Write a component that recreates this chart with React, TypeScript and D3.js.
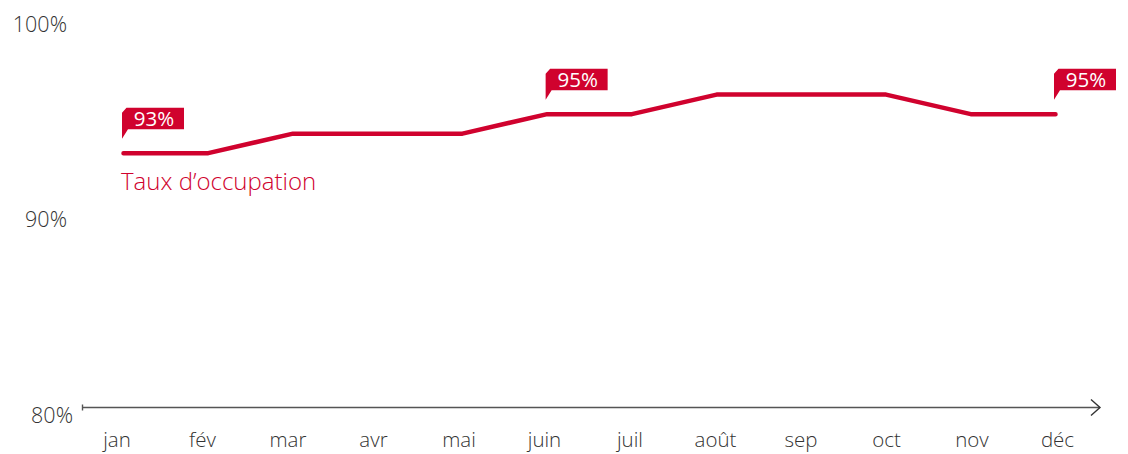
import React from "react";
import * as d3 from "d3";

const months = ["jan", "fév", "mar", "avr", "mai", "juin", "juil", "août", "sep", "oct", "nov", "déc"];
const occupation = [93, 93, 94, 94, 94, 95, 95, 96, 96, 96, 95, 95];
const calloutIndex = [0, 5, 11];
const yTicks = [100, 90, 80];
const seriesName = "Taux d\u2019occupation";

const W = 1128;
const H = 454;
const RED = "#d0022e";
const GREY = "#333333";
const FONT = "'Open Sans', Lato, sans-serif";

export default function App() {
  const y = d3.scaleLinear().domain([80, 100]).range([407, 16.5]);
  const x = d3.scalePoint<string>().domain(months).range([123.5, 1055.5]);
  const xLab = d3.scalePoint<string>().domain(months).range([117, 1057.5]);

  const line = d3
    .line<number>()
    .x((_, i) => x(months[i]) as number)
    .y((d) => y(d));

  const axisY = y(80);

  return (
    <svg
      width={W}
      height={H}
      style={{ position: "absolute", left: 0, top: 0, background: "#fff" }}
      fontFamily={FONT}
      fontWeight={300}
    >
      {/* y tick labels */}
      {yTicks.map((t) => (
        <text
          key={t}
          x={t === 80 ? 73 : 67}
          y={y(t) + 15.5}
          textAnchor="end"
          fontSize={21.5}
          fill={GREY}
        >
          {t}%
        </text>
      ))}

      {/* x axis */}
      <line x1={82.5} x2={1100} y1={axisY + 0.5} y2={axisY + 0.5} stroke="#555" strokeWidth={1.4} />
      <line x1={82.5} x2={82.5} y1={axisY - 2.5} y2={axisY + 3.5} stroke="#555" strokeWidth={1.4} />
      <path
        d={`M1091,${axisY - 7.5} L1100,${axisY + 0.5} L1091,${axisY + 8.5}`}
        fill="none"
        stroke="#333"
        strokeWidth={1.4}
      />
      {months.map((m) => (
        <text key={m} x={xLab(m)} y={446.5} textAnchor="middle" fontSize={20.5} fill={GREY}>
          {m}
        </text>
      ))}

      {/* series line */}
      <path
        d={line(occupation) || ""}
        fill="none"
        stroke={RED}
        strokeWidth={4.5}
        strokeLinecap="round"
        strokeLinejoin="round"
      />

      {/* series label */}
      <text x={121} y={190} fontSize={24} fill={RED}>
        {seriesName}
      </text>

      {/* callouts */}
      {calloutIndex.map((i) => {
        const px = x(months[i]) as number;
        const py = y(occupation[i]);
        const L = px - 1.5;
        const top = py - 45.5;
        const bottom = py - 24;
        const tail = py - 14.5;
        const w = 62;
        const d = `M${L},${top + 5} L${L + 4.5},${top} L${L + w},${top} L${L + w},${bottom} L${L + 6},${bottom} L${L},${tail} Z`;
        return (
          <g key={i}>
            <path d={d} fill={RED} />
            <text x={L + 32} y={bottom - 3.5} textAnchor="middle" fontSize={20.5} fontWeight={400} fill="#fff">
              {occupation[i]}%
            </text>
          </g>
        );
      })}
    </svg>
  );
}
